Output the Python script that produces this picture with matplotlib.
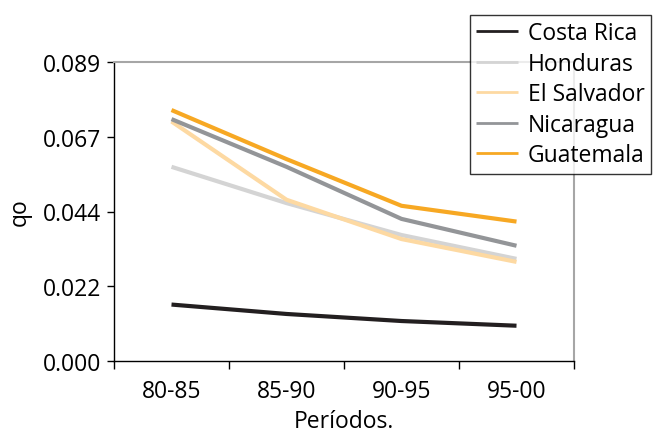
import matplotlib.pyplot as plt
import numpy as np

plt.rcParams['font.family'] = ['Open Sans', 'DejaVu Sans']

periods = ['80-85', '85-90', '90-95', '95-00']
costa_rica = [0.0168, 0.0140, 0.0119, 0.0105]
honduras = [0.0578, 0.0470, 0.0375, 0.0304]
el_salvador = [0.0713, 0.0480, 0.0363, 0.0295]
nicaragua = [0.0720, 0.0578, 0.0423, 0.0343]
guatemala = [0.0747, 0.0601, 0.0462, 0.0415]
y_ticks = [0.0, 0.02225, 0.0445, 0.06675, 0.089]
y_labels = ['0.000', '0.022', '0.044', '0.067', '0.089']

series = [
    ('Costa Rica', costa_rica, '#231f20'),
    ('Honduras', honduras, '#d4d4d4'),
    ('El Salvador', el_salvador, '#fdd9a2'),
    ('Nicaragua', nicaragua, '#939598'),
    ('Guatemala', guatemala, '#f7a823'),
]

fs = 16.5

fig = plt.figure(figsize=(6.59, 4.35), dpi=100)
ax = fig.add_axes([114 / 659, 1 - 362 / 435, (574 - 114) / 659, (362 - 63) / 435])

x = np.arange(len(periods))
for name, vals, col in series:
    ax.plot(x, vals, color=col, lw=3, label=name, solid_capstyle='butt')

ax.set_xlim(-0.5, len(periods) - 0.5)
ax.set_ylim(0, 0.089)
ax.set_yticks(y_ticks)
ax.set_yticklabels(y_labels, fontsize=fs)
ax.set_xticks(x)
ax.set_xticklabels(periods, fontsize=fs)
ax.set_xticks(np.arange(len(periods) + 1) - 0.5, minor=True)
ax.tick_params(axis='x', which='major', length=0, pad=13)
ax.tick_params(axis='x', which='minor', length=6, width=1, direction='out')
ax.tick_params(axis='y', length=5, width=1, direction='out', pad=4)

ax.spines['top'].set_color('#a6a6a6')
ax.spines['right'].set_color('#a6a6a6')
ax.spines['top'].set_linewidth(1.5)
ax.spines['right'].set_linewidth(1.5)
ax.spines['left'].set_linewidth(1)
ax.spines['bottom'].set_linewidth(1)

ax.set_xlabel('Períodos.', fontsize=fs, labelpad=4)
ax.set_ylabel('qo', fontsize=fs, labelpad=8)

leg = fig.legend(loc='upper left', bbox_to_anchor=(470 / 659, 1 - 16 / 435),
                 fontsize=fs, frameon=True, fancybox=False, edgecolor='black',
                 handlelength=1.8, handletextpad=0.45, borderpad=0.28,
                 labelspacing=0.28, borderaxespad=0)
leg.get_frame().set_linewidth(1)
for line in leg.get_lines():
    line.set_linewidth(2)

fig.savefig('out.png', dpi=100)
